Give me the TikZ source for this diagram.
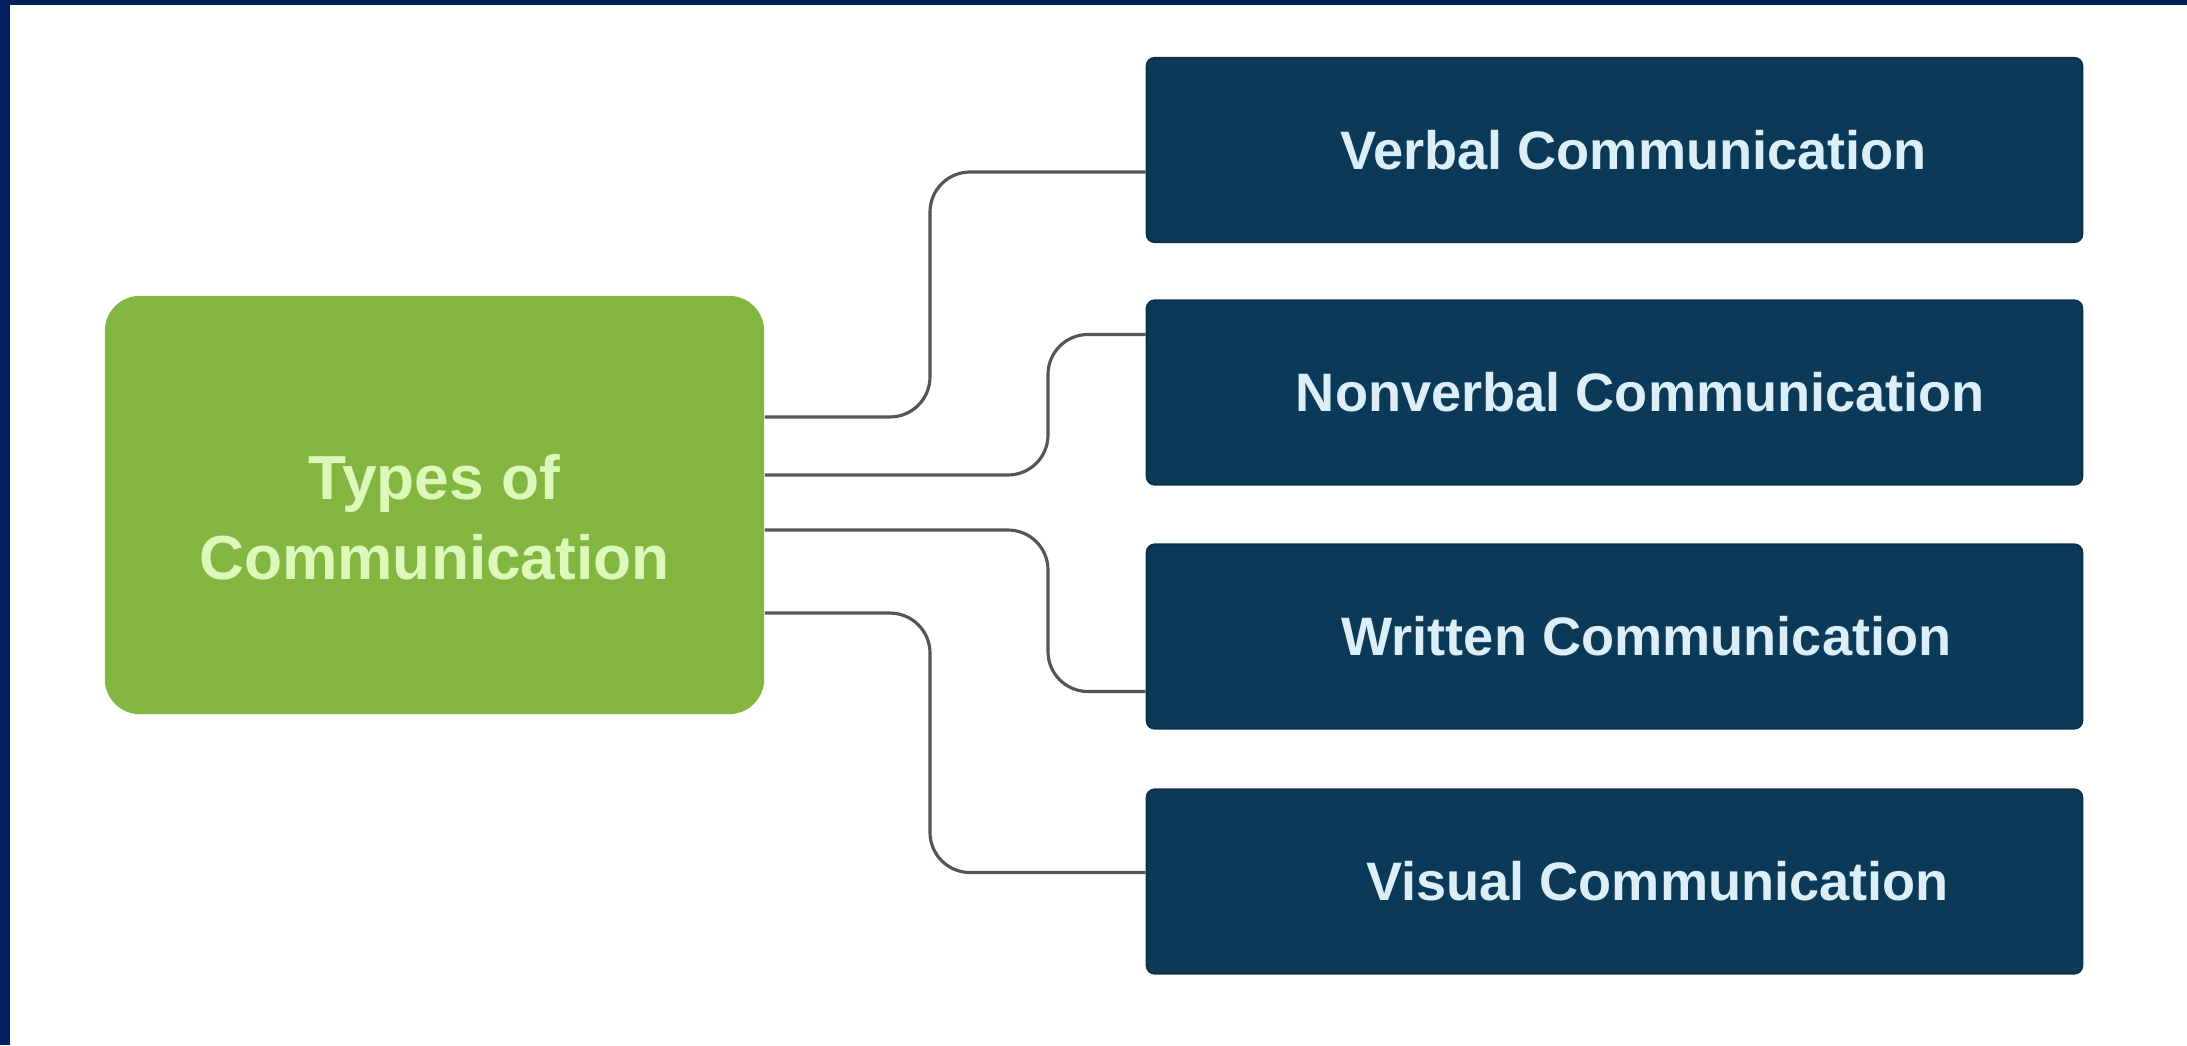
\documentclass[tikz,border=0pt]{standalone}
\usepackage{fontspec}
\setmainfont{Liberation Sans}
\usetikzlibrary{calc}

\definecolor{framenavy}{HTML}{00205F}
\definecolor{rootgreen}{HTML}{82B640}
\definecolor{roottext}{HTML}{DDF8B8}
\definecolor{leafblue}{HTML}{0A3A57}
\definecolor{leafedge}{HTML}{10304A}
\definecolor{leaftext}{HTML}{DCEFF8}
\definecolor{wire}{HTML}{555555}

\tikzset{
  rootbox/.style={fill=rootgreen, draw=none, rounded corners=0.35cm,
    minimum width=6.59cm, minimum height=4.18cm, inner sep=0pt},
  roottxt/.style={text=roottext, font=\bfseries\fontsize{17.7}{22.8}\selectfont,
    align=center, inner sep=0pt},
  leafbox/.style={fill=leafblue, draw=leafedge, line width=0.6pt, rounded corners=0.08cm,
    minimum width=9.35cm, minimum height=1.84cm, inner sep=0pt},
  leaftxt/.style={text=leaftext, font=\bfseries\fontsize{15.4}{18}\selectfont, inner sep=0pt},
  wireline/.style={draw=wire, line width=0.9pt, rounded corners=0.4cm}
}

\begin{document}
\begin{tikzpicture}[x=0.01cm, y=-0.01cm]
  % page and frame
  \useasboundingbox (0,0) rectangle (2187,1045);
  \fill[white] (0,0) rectangle (2187,1045);
  \fill[framenavy] (0,0) rectangle (2187,5);
  \fill[framenavy] (0,0) rectangle (10,1045);

  % root box
  \node[rootbox] (root) at (434.5,505) {};
  \node[roottxt] (rootlabel) at ([yshift=-0.12cm]root.center) {Types of\\Communication};

  % leaf boxes
  \node[leafbox] (b1) at (1614.5,150) {};
  \node[leafbox] (b2) at (1614.5,392.5) {};
  \node[leafbox] (b3) at (1614.5,636.5) {};
  \node[leafbox] (b4) at (1614.5,881.5) {};

  \node[leaftxt] (t1) at ([xshift=0.19cm]b1.center) {Verbal Communication};
  \node[leaftxt] (t2) at ([xshift=0.26cm]b2.center) {Nonverbal Communication};
  \node[leaftxt] (t3) at ([xshift=0.32cm]b3.center) {Written Communication};
  \node[leaftxt] (t4) at ([xshift=0.43cm]b4.center) {Visual Communication};

  % x positions of the vertical runs
  \coordinate (outer) at (930,0);
  \coordinate (inner) at (1048,0);

  % connector ends
  \coordinate (s1) at ([yshift=0.88cm]root.east);
  \coordinate (s2) at ([yshift=0.30cm]root.east);
  \coordinate (s3) at ([yshift=-0.25cm]root.east);
  \coordinate (s4) at ([yshift=-1.08cm]root.east);
  \coordinate (e1) at ([yshift=-0.22cm]b1.west);
  \coordinate (e2) at ([yshift=0.58cm]b2.west);
  \coordinate (e3) at ([yshift=-0.55cm]b3.west);
  \coordinate (e4) at ([yshift=0.09cm]b4.west);

  % connectors
  \draw[wireline] (s1) -- (s1 -| outer) -- (e1 -| outer) -- (e1);
  \draw[wireline] (s2) -- (s2 -| inner) -- (e2 -| inner) -- (e2);
  \draw[wireline] (s3) -- (s3 -| inner) -- (e3 -| inner) -- (e3);
  \draw[wireline] (s4) -- (s4 -| outer) -- (e4 -| outer) -- (e4);
\end{tikzpicture}
\end{document}
